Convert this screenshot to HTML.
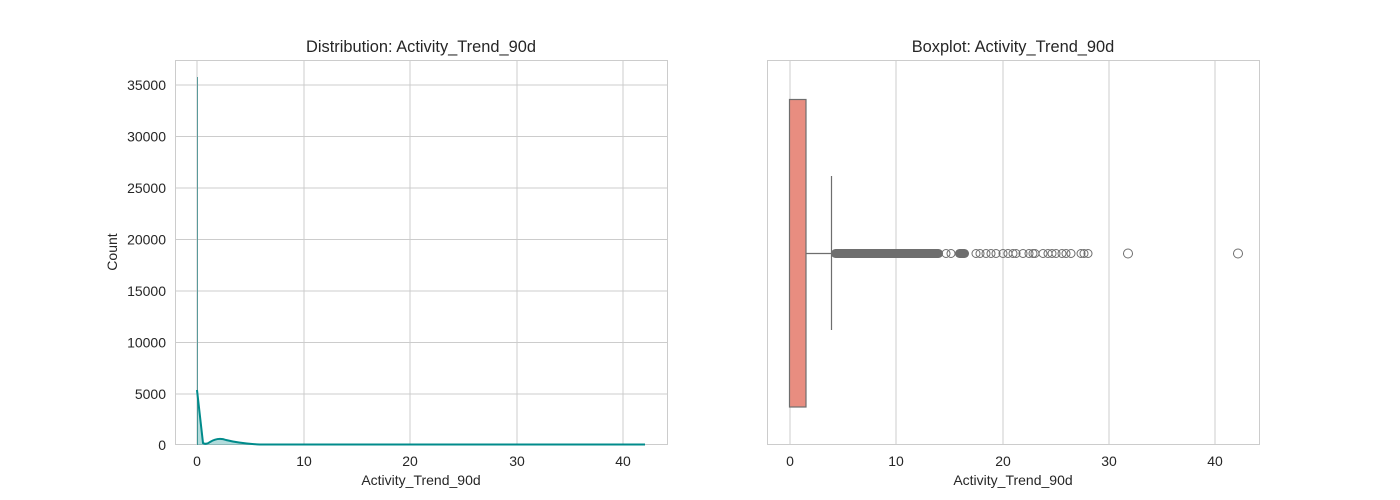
<!DOCTYPE html>
<html><head><meta charset="utf-8"><style>body{margin:0;background:#fff}svg{display:block}text{font-family:"Liberation Sans",Arial,sans-serif;fill:#262626}</style></head><body>
<svg width="1400" height="500" viewBox="0 0 1400 500">
<g stroke="#cccccc" stroke-width="1">
<line x1="197" y1="60" x2="197" y2="445"/><line x1="304" y1="60" x2="304" y2="445"/><line x1="410" y1="60" x2="410" y2="445"/><line x1="517" y1="60" x2="517" y2="445"/><line x1="623" y1="60" x2="623" y2="445"/>
<line x1="175" y1="394" x2="668" y2="394"/><line x1="175" y1="342.5" x2="668" y2="342.5"/><line x1="175" y1="291" x2="668" y2="291"/><line x1="175" y1="239.5" x2="668" y2="239.5"/><line x1="175" y1="188" x2="668" y2="188"/><line x1="175" y1="136.5" x2="668" y2="136.5"/><line x1="175" y1="85" x2="668" y2="85"/>
<rect x="175.5" y="60.5" width="492" height="384" fill="none"/>
<line x1="790" y1="60" x2="790" y2="445"/><line x1="896" y1="60" x2="896" y2="445"/><line x1="1003" y1="60" x2="1003" y2="445"/><line x1="1109" y1="60" x2="1109" y2="445"/><line x1="1215" y1="60" x2="1215" y2="445"/>
<rect x="767.5" y="60.5" width="492" height="384" fill="none"/>
</g>
<line x1="197.5" y1="77" x2="197.5" y2="445" stroke="#5a9a9a" stroke-width="1"/>
<path d="M197,390 L203,443 Q206,445 210,442 Q218,437 226,440 Q240,443.5 260,444.5 L645,444.5 L645,445 L197,445Z" fill="#008b8b" fill-opacity="0.3"/>
<path d="M197,390 L203,443 Q206,445 210,442 Q218,437 226,440 Q240,443.5 260,444.5 L645,444.5" fill="none" stroke="#008b8b" stroke-width="2"/>
<g font-size="14" text-anchor="middle">
<text x="197" y="466">0</text><text x="304" y="466">10</text><text x="410" y="466">20</text><text x="517" y="466">30</text><text x="623" y="466">40</text>
<text x="790" y="466">0</text><text x="896" y="466">10</text><text x="1003" y="466">20</text><text x="1109" y="466">30</text><text x="1215" y="466">40</text>
<text x="421" y="485">Activity_Trend_90d</text><text x="1013" y="485">Activity_Trend_90d</text>
</g>
<g font-size="14" text-anchor="end">
<text x="166" y="450">0</text><text x="166" y="399">5000</text><text x="166" y="347.5">10000</text><text x="166" y="296">15000</text><text x="166" y="244.5">20000</text><text x="166" y="193">25000</text><text x="166" y="141.5">30000</text><text x="166" y="90">35000</text>
</g>
<text x="117" y="252" font-size="14" text-anchor="middle" transform="rotate(-90 117 252)">Count</text>
<text x="421" y="52" font-size="16.4" text-anchor="middle">Distribution: Activity_Trend_90d</text>
<text x="1013" y="52" font-size="16.4" text-anchor="middle">Boxplot: Activity_Trend_90d</text>
<rect x="789.5" y="99.5" width="16.5" height="307.5" fill="#e88d80" stroke="#6e6e6e" stroke-width="1.2"/>
<line x1="806" y1="253.5" x2="831" y2="253.5" stroke="#6e6e6e" stroke-width="1.2"/>
<line x1="831.5" y1="176" x2="831.5" y2="330" stroke="#6e6e6e" stroke-width="1.2"/>
<rect x="831" y="249" width="112" height="9" rx="4.5" fill="#6e6e6e"/>
<rect x="955" y="249" width="14" height="9" rx="4.5" fill="#6e6e6e"/>
<g fill="none" stroke="#6e6e6e" stroke-width="1">
<circle cx="946" cy="253.5" r="4"/><circle cx="951" cy="253.5" r="4"/><circle cx="976" cy="253.5" r="4"/><circle cx="980" cy="253.5" r="4"/><circle cx="986" cy="253.5" r="4"/><circle cx="991" cy="253.5" r="4"/><circle cx="996" cy="253.5" r="4"/><circle cx="1003" cy="253.5" r="4"/><circle cx="1008" cy="253.5" r="4"/><circle cx="1013" cy="253.5" r="4"/><circle cx="1016" cy="253.5" r="4"/><circle cx="1023" cy="253.5" r="4"/><circle cx="1029" cy="253.5" r="4"/><circle cx="1033" cy="253.5" r="4"/><circle cx="1035" cy="253.5" r="4"/><circle cx="1043" cy="253.5" r="4"/><circle cx="1048" cy="253.5" r="4"/><circle cx="1052" cy="253.5" r="4"/><circle cx="1056" cy="253.5" r="4"/><circle cx="1062" cy="253.5" r="4"/><circle cx="1066" cy="253.5" r="4"/><circle cx="1071" cy="253.5" r="4"/><circle cx="1081" cy="253.5" r="4"/><circle cx="1084" cy="253.5" r="4"/><circle cx="1088" cy="253.5" r="4"/><circle cx="1128" cy="253.5" r="4.5"/><circle cx="1238" cy="253.5" r="4.5"/>
</g>
</svg>
</body></html>
